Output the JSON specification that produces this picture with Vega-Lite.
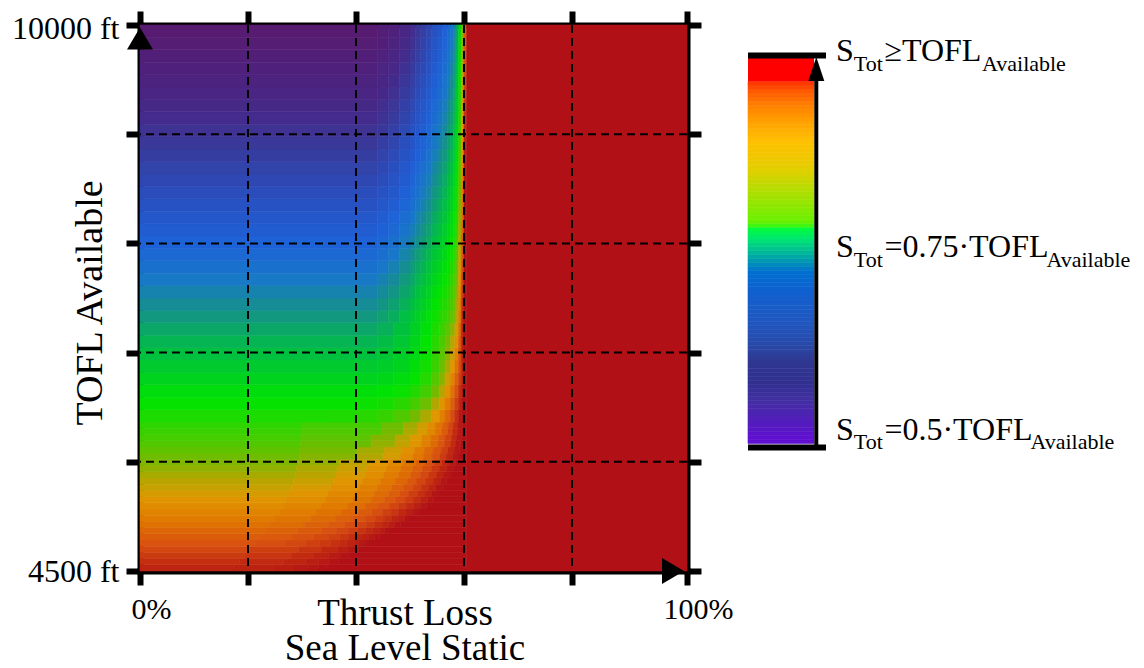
{
"$schema":"https://vega.github.io/schema/vega-lite/v6.json",
"background":"white",
"padding":{"left":11,"top":8,"right":5,"bottom":0},
"autosize":{"type":"pad"},
"spacing":61,
"bounds":"flush",
"resolve":{"scale":{"color":"independent","stroke":"independent"}},
"config":{
"view":{"stroke":null},
"font":"Liberation Serif",
"axis":{"domainColor":"black","domainWidth":6,"domainCap":"square","tickColor":"black","tickWidth":6,"tickSize":14,"labelColor":"black","labelFont":"Liberation Serif","titleFont":"Liberation Serif","titleColor":"black","titleFontWeight":"normal","grid":false,"zindex":1,"labelOverlap":false,"labelFlush":false,"labelBound":false}
},
"datasets":{
"heat":[
{"x":0,"x2":17.3,"y":4500,"y2":4562.5,"r":0.971},{"x":17.3,"x2":25,"y":4500,"y2":4562.5,"r":0.974},{"x":25,"x2":28.7,"y":4500,"y2":4562.5,"r":0.98},{"x":28.7,"x2":31.2,"y":4500,"y2":4562.5,"r":0.986},{"x":31.2,"x2":33,"y":4500,"y2":4562.5,"r":0.991},{"x":33,"x2":34.5,"y":4500,"y2":4562.5,"r":0.997},{"x":34.5,"x2":60.5,"y":4500,"y2":4562.5,"r":1.1},
{"x":0,"x2":18.4,"y":4562.5,"y2":4625,"r":0.958},{"x":18.4,"x2":26.6,"y":4562.5,"y2":4625,"r":0.963},{"x":26.6,"x2":30.6,"y":4562.5,"y2":4625,"r":0.97},{"x":30.6,"x2":33.1,"y":4562.5,"y2":4625,"r":0.979},{"x":33.1,"x2":35.1,"y":4562.5,"y2":4625,"r":0.987},{"x":35.1,"x2":36.7,"y":4562.5,"y2":4625,"r":0.996},{"x":36.7,"x2":60.5,"y":4562.5,"y2":4625,"r":1.1},
{"x":0,"x2":19.3,"y":4625,"y2":4687.5,"r":0.946},{"x":19.3,"x2":28,"y":4625,"y2":4687.5,"r":0.952},{"x":28,"x2":32.2,"y":4625,"y2":4687.5,"r":0.962},{"x":32.2,"x2":34.9,"y":4625,"y2":4687.5,"r":0.973},{"x":34.9,"x2":36.9,"y":4625,"y2":4687.5,"r":0.984},{"x":36.9,"x2":38.6,"y":4625,"y2":4687.5,"r":0.995},{"x":38.6,"x2":60.5,"y":4625,"y2":4687.5,"r":1.1},
{"x":0,"x2":20.3,"y":4687.5,"y2":4750,"r":0.933},{"x":20.3,"x2":29.4,"y":4687.5,"y2":4750,"r":0.941},{"x":29.4,"x2":33.7,"y":4687.5,"y2":4750,"r":0.953},{"x":33.7,"x2":36.6,"y":4687.5,"y2":4750,"r":0.966},{"x":36.6,"x2":38.7,"y":4687.5,"y2":4750,"r":0.98},{"x":38.7,"x2":40.5,"y":4687.5,"y2":4750,"r":0.993},{"x":40.5,"x2":60.5,"y":4687.5,"y2":4750,"r":1.1},
{"x":0,"x2":21.2,"y":4750,"y2":4812.5,"r":0.92},{"x":21.2,"x2":26.8,"y":4750,"y2":4812.5,"r":0.925},{"x":26.8,"x2":30.7,"y":4750,"y2":4812.5,"r":0.932},{"x":30.7,"x2":33.3,"y":4750,"y2":4812.5,"r":0.94},{"x":33.3,"x2":35.3,"y":4750,"y2":4812.5,"r":0.948},{"x":35.3,"x2":36.9,"y":4750,"y2":4812.5,"r":0.956},{"x":36.9,"x2":38.3,"y":4750,"y2":4812.5,"r":0.964},{"x":38.3,"x2":39.5,"y":4750,"y2":4812.5,"r":0.972},{"x":39.5,"x2":40.5,"y":4750,"y2":4812.5,"r":0.98},{"x":40.5,"x2":41.5,"y":4750,"y2":4812.5,"r":0.988},{"x":41.5,"x2":42.4,"y":4750,"y2":4812.5,"r":0.996},{"x":42.4,"x2":60.5,"y":4750,"y2":4812.5,"r":1.1},
{"x":0,"x2":22.2,"y":4812.5,"y2":4875,"r":0.909},{"x":22.2,"x2":28,"y":4812.5,"y2":4875,"r":0.914},{"x":28,"x2":32.2,"y":4812.5,"y2":4875,"r":0.922},{"x":32.2,"x2":34.9,"y":4812.5,"y2":4875,"r":0.931},{"x":34.9,"x2":37,"y":4812.5,"y2":4875,"r":0.94},{"x":37,"x2":38.7,"y":4812.5,"y2":4875,"r":0.95},{"x":38.7,"x2":40.1,"y":4812.5,"y2":4875,"r":0.959},{"x":40.1,"x2":41.3,"y":4812.5,"y2":4875,"r":0.968},{"x":41.3,"x2":42.4,"y":4812.5,"y2":4875,"r":0.977},{"x":42.4,"x2":43.5,"y":4812.5,"y2":4875,"r":0.986},{"x":43.5,"x2":44.4,"y":4812.5,"y2":4875,"r":0.995},{"x":44.4,"x2":60.5,"y":4812.5,"y2":4875,"r":1.1},
{"x":0,"x2":23.2,"y":4875,"y2":4937.5,"r":0.897},{"x":23.2,"x2":29.2,"y":4875,"y2":4937.5,"r":0.903},{"x":29.2,"x2":33.6,"y":4875,"y2":4937.5,"r":0.912},{"x":33.6,"x2":36.4,"y":4875,"y2":4937.5,"r":0.923},{"x":36.4,"x2":38.6,"y":4875,"y2":4937.5,"r":0.933},{"x":38.6,"x2":40.3,"y":4875,"y2":4937.5,"r":0.943},{"x":40.3,"x2":41.8,"y":4875,"y2":4937.5,"r":0.954},{"x":41.8,"x2":43.1,"y":4875,"y2":4937.5,"r":0.964},{"x":43.1,"x2":44.3,"y":4875,"y2":4937.5,"r":0.974},{"x":44.3,"x2":45.3,"y":4875,"y2":4937.5,"r":0.985},{"x":45.3,"x2":46.3,"y":4875,"y2":4937.5,"r":0.995},{"x":46.3,"x2":60.5,"y":4875,"y2":4937.5,"r":1.1},
{"x":0,"x2":24.1,"y":4937.5,"y2":5000,"r":0.886},{"x":24.1,"x2":30.4,"y":4937.5,"y2":5000,"r":0.892},{"x":30.4,"x2":34.9,"y":4937.5,"y2":5000,"r":0.903},{"x":34.9,"x2":37.9,"y":4937.5,"y2":5000,"r":0.914},{"x":37.9,"x2":40.2,"y":4937.5,"y2":5000,"r":0.926},{"x":40.2,"x2":42,"y":4937.5,"y2":5000,"r":0.937},{"x":42,"x2":43.5,"y":4937.5,"y2":5000,"r":0.948},{"x":43.5,"x2":44.9,"y":4937.5,"y2":5000,"r":0.96},{"x":44.9,"x2":46.1,"y":4937.5,"y2":5000,"r":0.971},{"x":46.1,"x2":47.2,"y":4937.5,"y2":5000,"r":0.983},{"x":47.2,"x2":48.2,"y":4937.5,"y2":5000,"r":0.994},{"x":48.2,"x2":60.5,"y":4937.5,"y2":5000,"r":1.1},
{"x":0,"x2":25,"y":5000,"y2":5062.5,"r":0.875},{"x":25,"x2":31.6,"y":5000,"y2":5062.5,"r":0.882},{"x":31.6,"x2":36.3,"y":5000,"y2":5062.5,"r":0.893},{"x":36.3,"x2":39.3,"y":5000,"y2":5062.5,"r":0.906},{"x":39.3,"x2":41.7,"y":5000,"y2":5062.5,"r":0.918},{"x":41.7,"x2":43.6,"y":5000,"y2":5062.5,"r":0.931},{"x":43.6,"x2":45.2,"y":5000,"y2":5062.5,"r":0.944},{"x":45.2,"x2":46.6,"y":5000,"y2":5062.5,"r":0.956},{"x":46.6,"x2":47.8,"y":5000,"y2":5062.5,"r":0.969},{"x":47.8,"x2":49,"y":5000,"y2":5062.5,"r":0.981},{"x":49,"x2":50,"y":5000,"y2":5062.5,"r":0.994},{"x":50,"x2":60.5,"y":5000,"y2":5062.5,"r":1.1},
{"x":0,"x2":25.8,"y":5062.5,"y2":5125,"r":0.864},{"x":25.8,"x2":32.5,"y":5062.5,"y2":5125,"r":0.872},{"x":32.5,"x2":37.3,"y":5062.5,"y2":5125,"r":0.884},{"x":37.3,"x2":40.5,"y":5062.5,"y2":5125,"r":0.898},{"x":40.5,"x2":42.9,"y":5062.5,"y2":5125,"r":0.911},{"x":42.9,"x2":44.9,"y":5062.5,"y2":5125,"r":0.925},{"x":44.9,"x2":46.5,"y":5062.5,"y2":5125,"r":0.939},{"x":46.5,"x2":47.9,"y":5062.5,"y2":5125,"r":0.952},{"x":47.9,"x2":49.2,"y":5062.5,"y2":5125,"r":0.966},{"x":49.2,"x2":50.4,"y":5062.5,"y2":5125,"r":0.98},{"x":50.4,"x2":51.5,"y":5062.5,"y2":5125,"r":0.993},{"x":51.5,"x2":60.5,"y":5062.5,"y2":5125,"r":1.1},
{"x":0,"x2":26.5,"y":5125,"y2":5187.5,"r":0.854},{"x":26.5,"x2":33.4,"y":5125,"y2":5187.5,"r":0.862},{"x":33.4,"x2":38.4,"y":5125,"y2":5187.5,"r":0.875},{"x":38.4,"x2":41.7,"y":5125,"y2":5187.5,"r":0.89},{"x":41.7,"x2":44.1,"y":5125,"y2":5187.5,"r":0.905},{"x":44.1,"x2":46.2,"y":5125,"y2":5187.5,"r":0.919},{"x":46.2,"x2":47.9,"y":5125,"y2":5187.5,"r":0.934},{"x":47.9,"x2":49.3,"y":5125,"y2":5187.5,"r":0.949},{"x":49.3,"x2":50.7,"y":5125,"y2":5187.5,"r":0.963},{"x":50.7,"x2":51.9,"y":5125,"y2":5187.5,"r":0.978},{"x":51.9,"x2":53,"y":5125,"y2":5187.5,"r":0.993},{"x":53,"x2":60.5,"y":5125,"y2":5187.5,"r":1.1},
{"x":0,"x2":27.2,"y":5187.5,"y2":5250,"r":0.844},{"x":27.2,"x2":34.3,"y":5187.5,"y2":5250,"r":0.853},{"x":34.3,"x2":39.4,"y":5187.5,"y2":5250,"r":0.867},{"x":39.4,"x2":42.8,"y":5187.5,"y2":5250,"r":0.882},{"x":42.8,"x2":45.3,"y":5187.5,"y2":5250,"r":0.898},{"x":45.3,"x2":47.4,"y":5187.5,"y2":5250,"r":0.914},{"x":47.4,"x2":49.1,"y":5187.5,"y2":5250,"r":0.929},{"x":49.1,"x2":50.6,"y":5187.5,"y2":5250,"r":0.945},{"x":50.6,"x2":52,"y":5187.5,"y2":5250,"r":0.961},{"x":52,"x2":53.3,"y":5187.5,"y2":5250,"r":0.976},{"x":53.3,"x2":54.4,"y":5187.5,"y2":5250,"r":0.992},{"x":54.4,"x2":60.5,"y":5187.5,"y2":5250,"r":1.1},
{"x":0,"x2":27.6,"y":5250,"y2":5312.5,"r":0.834},{"x":27.6,"x2":34.8,"y":5250,"y2":5312.5,"r":0.843},{"x":34.8,"x2":40,"y":5250,"y2":5312.5,"r":0.858},{"x":40,"x2":43.4,"y":5250,"y2":5312.5,"r":0.875},{"x":43.4,"x2":46,"y":5250,"y2":5312.5,"r":0.892},{"x":46,"x2":48.1,"y":5250,"y2":5312.5,"r":0.908},{"x":48.1,"x2":49.8,"y":5250,"y2":5312.5,"r":0.925},{"x":49.8,"x2":51.4,"y":5250,"y2":5312.5,"r":0.942},{"x":51.4,"x2":52.8,"y":5250,"y2":5312.5,"r":0.958},{"x":52.8,"x2":54,"y":5250,"y2":5312.5,"r":0.975},{"x":54,"x2":55.2,"y":5250,"y2":5312.5,"r":0.992},{"x":55.2,"x2":60.5,"y":5250,"y2":5312.5,"r":1.1},
{"x":0,"x2":28,"y":5312.5,"y2":5375,"r":0.824},{"x":28,"x2":35.3,"y":5312.5,"y2":5375,"r":0.834},{"x":35.3,"x2":40.6,"y":5312.5,"y2":5375,"r":0.85},{"x":40.6,"x2":44,"y":5312.5,"y2":5375,"r":0.868},{"x":44,"x2":46.6,"y":5312.5,"y2":5375,"r":0.885},{"x":46.6,"x2":48.8,"y":5312.5,"y2":5375,"r":0.903},{"x":48.8,"x2":50.6,"y":5312.5,"y2":5375,"r":0.921},{"x":50.6,"x2":52.1,"y":5312.5,"y2":5375,"r":0.938},{"x":52.1,"x2":53.5,"y":5312.5,"y2":5375,"r":0.956},{"x":53.5,"x2":54.8,"y":5312.5,"y2":5375,"r":0.973},{"x":54.8,"x2":56,"y":5312.5,"y2":5375,"r":0.991},{"x":56,"x2":60.5,"y":5312.5,"y2":5375,"r":1.1},
{"x":0,"x2":28.4,"y":5375,"y2":5437.5,"r":0.815},{"x":28.4,"x2":35.8,"y":5375,"y2":5437.5,"r":0.825},{"x":35.8,"x2":41.2,"y":5375,"y2":5437.5,"r":0.842},{"x":41.2,"x2":44.6,"y":5375,"y2":5437.5,"r":0.86},{"x":44.6,"x2":47.3,"y":5375,"y2":5437.5,"r":0.879},{"x":47.3,"x2":49.5,"y":5375,"y2":5437.5,"r":0.898},{"x":49.5,"x2":51.3,"y":5375,"y2":5437.5,"r":0.916},{"x":51.3,"x2":52.9,"y":5375,"y2":5437.5,"r":0.935},{"x":52.9,"x2":54.3,"y":5375,"y2":5437.5,"r":0.953},{"x":54.3,"x2":55.6,"y":5375,"y2":5437.5,"r":0.972},{"x":55.6,"x2":56.8,"y":5375,"y2":5437.5,"r":0.991},{"x":56.8,"x2":60.5,"y":5375,"y2":5437.5,"r":1.1},
{"x":0,"x2":28.8,"y":5437.5,"y2":5500,"r":0.806},{"x":28.8,"x2":36.3,"y":5437.5,"y2":5500,"r":0.816},{"x":36.3,"x2":41.7,"y":5437.5,"y2":5500,"r":0.834},{"x":41.7,"x2":45.2,"y":5437.5,"y2":5500,"r":0.853},{"x":45.2,"x2":47.9,"y":5437.5,"y2":5500,"r":0.873},{"x":47.9,"x2":50.1,"y":5437.5,"y2":5500,"r":0.892},{"x":50.1,"x2":51.9,"y":5437.5,"y2":5500,"r":0.912},{"x":51.9,"x2":53.5,"y":5437.5,"y2":5500,"r":0.932},{"x":53.5,"x2":55,"y":5437.5,"y2":5500,"r":0.951},{"x":55,"x2":56.3,"y":5437.5,"y2":5500,"r":0.971},{"x":56.3,"x2":57.5,"y":5437.5,"y2":5500,"r":0.99},{"x":57.5,"x2":60.5,"y":5437.5,"y2":5500,"r":1.1},
{"x":0,"x2":29,"y":5500,"y2":5562.5,"r":0.797},{"x":29,"x2":36.6,"y":5500,"y2":5562.5,"r":0.808},{"x":36.6,"x2":42.1,"y":5500,"y2":5562.5,"r":0.826},{"x":42.1,"x2":45.6,"y":5500,"y2":5562.5,"r":0.847},{"x":45.6,"x2":48.3,"y":5500,"y2":5562.5,"r":0.867},{"x":48.3,"x2":50.5,"y":5500,"y2":5562.5,"r":0.888},{"x":50.5,"x2":52.4,"y":5500,"y2":5562.5,"r":0.908},{"x":52.4,"x2":54,"y":5500,"y2":5562.5,"r":0.928},{"x":54,"x2":55.4,"y":5500,"y2":5562.5,"r":0.949},{"x":55.4,"x2":56.8,"y":5500,"y2":5562.5,"r":0.969},{"x":56.8,"x2":58,"y":5500,"y2":5562.5,"r":0.99},{"x":58,"x2":60.5,"y":5500,"y2":5562.5,"r":1.1},
{"x":0,"x2":29.3,"y":5562.5,"y2":5625,"r":0.788},{"x":29.3,"x2":36.9,"y":5562.5,"y2":5625,"r":0.799},{"x":36.9,"x2":42.4,"y":5562.5,"y2":5625,"r":0.819},{"x":42.4,"x2":46,"y":5562.5,"y2":5625,"r":0.84},{"x":46,"x2":48.7,"y":5562.5,"y2":5625,"r":0.861},{"x":48.7,"x2":51,"y":5562.5,"y2":5625,"r":0.883},{"x":51,"x2":52.8,"y":5562.5,"y2":5625,"r":0.904},{"x":52.8,"x2":54.5,"y":5562.5,"y2":5625,"r":0.925},{"x":54.5,"x2":55.9,"y":5562.5,"y2":5625,"r":0.947},{"x":55.9,"x2":57.3,"y":5562.5,"y2":5625,"r":0.968},{"x":57.3,"x2":58.5,"y":5562.5,"y2":5625,"r":0.989},{"x":58.5,"x2":60.5,"y":5562.5,"y2":5625,"r":1.1},
{"x":0,"x2":29.5,"y":5625,"y2":5687.5,"r":0.779},{"x":29.5,"x2":40.1,"y":5625,"y2":5687.5,"r":0.791},{"x":40.1,"x2":45.1,"y":5625,"y2":5687.5,"r":0.811},{"x":45.1,"x2":48.2,"y":5625,"y2":5687.5,"r":0.833},{"x":48.2,"x2":50.5,"y":5625,"y2":5687.5,"r":0.856},{"x":50.5,"x2":52.5,"y":5625,"y2":5687.5,"r":0.878},{"x":52.5,"x2":54.1,"y":5625,"y2":5687.5,"r":0.9},{"x":54.1,"x2":55.5,"y":5625,"y2":5687.5,"r":0.922},{"x":55.5,"x2":56.7,"y":5625,"y2":5687.5,"r":0.944},{"x":56.7,"x2":57.9,"y":5625,"y2":5687.5,"r":0.967},{"x":57.9,"x2":58.9,"y":5625,"y2":5687.5,"r":0.989},{"x":58.9,"x2":60.5,"y":5625,"y2":5687.5,"r":1.1},
{"x":0,"x2":29.6,"y":5687.5,"y2":5750,"r":0.77},{"x":29.6,"x2":40.3,"y":5687.5,"y2":5750,"r":0.783},{"x":40.3,"x2":45.3,"y":5687.5,"y2":5750,"r":0.804},{"x":45.3,"x2":48.4,"y":5687.5,"y2":5750,"r":0.827},{"x":48.4,"x2":50.8,"y":5687.5,"y2":5750,"r":0.85},{"x":50.8,"x2":52.7,"y":5687.5,"y2":5750,"r":0.873},{"x":52.7,"x2":54.3,"y":5687.5,"y2":5750,"r":0.896},{"x":54.3,"x2":55.8,"y":5687.5,"y2":5750,"r":0.919},{"x":55.8,"x2":57,"y":5687.5,"y2":5750,"r":0.942},{"x":57,"x2":58.2,"y":5687.5,"y2":5750,"r":0.965},{"x":58.2,"x2":59.2,"y":5687.5,"y2":5750,"r":0.988},{"x":59.2,"x2":60.5,"y":5687.5,"y2":5750,"r":1.1},
{"x":0,"x2":29.7,"y":5750,"y2":5812.5,"r":0.762},{"x":29.7,"x2":42.8,"y":5750,"y2":5812.5,"r":0.775},{"x":42.8,"x2":47.2,"y":5750,"y2":5812.5,"r":0.797},{"x":47.2,"x2":50,"y":5750,"y2":5812.5,"r":0.821},{"x":50,"x2":52.1,"y":5750,"y2":5812.5,"r":0.845},{"x":52.1,"x2":53.8,"y":5750,"y2":5812.5,"r":0.869},{"x":53.8,"x2":55.2,"y":5750,"y2":5812.5,"r":0.893},{"x":55.2,"x2":56.4,"y":5750,"y2":5812.5,"r":0.916},{"x":56.4,"x2":57.6,"y":5750,"y2":5812.5,"r":0.94},{"x":57.6,"x2":58.5,"y":5750,"y2":5812.5,"r":0.964},{"x":58.5,"x2":59.4,"y":5750,"y2":5812.5,"r":0.988},{"x":59.4,"x2":60.5,"y":5750,"y2":5812.5,"r":1.1},
{"x":0,"x2":29.8,"y":5812.5,"y2":5875,"r":0.754},{"x":29.8,"x2":42.8,"y":5812.5,"y2":5875,"r":0.768},{"x":42.8,"x2":47.3,"y":5812.5,"y2":5875,"r":0.79},{"x":47.3,"x2":50.1,"y":5812.5,"y2":5875,"r":0.815},{"x":50.1,"x2":52.2,"y":5812.5,"y2":5875,"r":0.839},{"x":52.2,"x2":53.9,"y":5812.5,"y2":5875,"r":0.864},{"x":53.9,"x2":55.3,"y":5812.5,"y2":5875,"r":0.889},{"x":55.3,"x2":56.5,"y":5812.5,"y2":5875,"r":0.913},{"x":56.5,"x2":57.7,"y":5812.5,"y2":5875,"r":0.938},{"x":57.7,"x2":58.6,"y":5812.5,"y2":5875,"r":0.963},{"x":58.6,"x2":59.5,"y":5812.5,"y2":5875,"r":0.988},{"x":59.5,"x2":60.5,"y":5812.5,"y2":5875,"r":1.1},
{"x":0,"x2":29.8,"y":5875,"y2":5937.5,"r":0.746},{"x":29.8,"x2":44.7,"y":5875,"y2":5937.5,"r":0.76},{"x":44.7,"x2":48.8,"y":5875,"y2":5937.5,"r":0.783},{"x":48.8,"x2":51.3,"y":5875,"y2":5937.5,"r":0.809},{"x":51.3,"x2":53.2,"y":5875,"y2":5937.5,"r":0.834},{"x":53.2,"x2":54.7,"y":5875,"y2":5937.5,"r":0.86},{"x":54.7,"x2":55.9,"y":5875,"y2":5937.5,"r":0.885},{"x":55.9,"x2":57,"y":5875,"y2":5937.5,"r":0.911},{"x":57,"x2":57.9,"y":5875,"y2":5937.5,"r":0.936},{"x":57.9,"x2":58.8,"y":5875,"y2":5937.5,"r":0.962},{"x":58.8,"x2":59.6,"y":5875,"y2":5937.5,"r":0.987},{"x":59.6,"x2":60.5,"y":5875,"y2":5937.5,"r":1.1},
{"x":0,"x2":29.9,"y":5937.5,"y2":6000,"r":0.738},{"x":29.9,"x2":44.8,"y":5937.5,"y2":6000,"r":0.753},{"x":44.8,"x2":48.8,"y":5937.5,"y2":6000,"r":0.777},{"x":48.8,"x2":51.3,"y":5937.5,"y2":6000,"r":0.803},{"x":51.3,"x2":53.3,"y":5937.5,"y2":6000,"r":0.829},{"x":53.3,"x2":54.7,"y":5937.5,"y2":6000,"r":0.856},{"x":54.7,"x2":56,"y":5937.5,"y2":6000,"r":0.882},{"x":56,"x2":57.1,"y":5937.5,"y2":6000,"r":0.908},{"x":57.1,"x2":58,"y":5937.5,"y2":6000,"r":0.934},{"x":58,"x2":58.9,"y":5937.5,"y2":6000,"r":0.961},{"x":58.9,"x2":59.7,"y":5937.5,"y2":6000,"r":0.987},{"x":59.7,"x2":60.5,"y":5937.5,"y2":6000,"r":1.1},
{"x":0,"x2":35,"y":6000,"y2":6125,"r":0.726},{"x":35,"x2":40,"y":6000,"y2":6125,"r":0.728},{"x":40,"x2":44,"y":6000,"y2":6125,"r":0.734},{"x":44,"x2":47,"y":6000,"y2":6125,"r":0.744},{"x":47,"x2":50,"y":6000,"y2":6125,"r":0.76},{"x":50,"x2":52,"y":6000,"y2":6125,"r":0.783},{"x":52,"x2":54,"y":6000,"y2":6125,"r":0.809},{"x":54,"x2":55.5,"y":6000,"y2":6125,"r":0.841},{"x":55.5,"x2":56.5,"y":6000,"y2":6125,"r":0.87},{"x":56.5,"x2":57.5,"y":6000,"y2":6125,"r":0.898},{"x":57.5,"x2":58.3,"y":6000,"y2":6125,"r":0.928},{"x":58.3,"x2":59,"y":6000,"y2":6125,"r":0.956},{"x":59,"x2":59.5,"y":6000,"y2":6125,"r":0.986},{"x":59.5,"x2":60.5,"y":6000,"y2":6125,"r":1.1},
{"x":0,"x2":40,"y":6125,"y2":6250,"r":0.711},{"x":40,"x2":44,"y":6125,"y2":6250,"r":0.715},{"x":44,"x2":47,"y":6125,"y2":6250,"r":0.722},{"x":47,"x2":50,"y":6125,"y2":6250,"r":0.735},{"x":50,"x2":52,"y":6125,"y2":6250,"r":0.754},{"x":52,"x2":54,"y":6125,"y2":6250,"r":0.779},{"x":54,"x2":55.5,"y":6125,"y2":6250,"r":0.811},{"x":55.5,"x2":56.5,"y":6125,"y2":6250,"r":0.843},{"x":56.5,"x2":57.5,"y":6125,"y2":6250,"r":0.874},{"x":57.5,"x2":58.3,"y":6125,"y2":6250,"r":0.907},{"x":58.3,"x2":59,"y":6125,"y2":6250,"r":0.94},{"x":59,"x2":59.5,"y":6125,"y2":6250,"r":0.97},{"x":59.5,"x2":60,"y":6125,"y2":6250,"r":0.998},{"x":60,"x2":60.5,"y":6125,"y2":6250,"r":1.1},
{"x":0,"x2":40,"y":6250,"y2":6375,"r":0.697},{"x":40,"x2":44,"y":6250,"y2":6375,"r":0.699},{"x":44,"x2":47,"y":6250,"y2":6375,"r":0.704},{"x":47,"x2":50,"y":6250,"y2":6375,"r":0.713},{"x":50,"x2":52,"y":6250,"y2":6375,"r":0.729},{"x":52,"x2":54,"y":6250,"y2":6375,"r":0.752},{"x":54,"x2":55.5,"y":6250,"y2":6375,"r":0.783},{"x":55.5,"x2":56.5,"y":6250,"y2":6375,"r":0.815},{"x":56.5,"x2":57.5,"y":6250,"y2":6375,"r":0.848},{"x":57.5,"x2":58.3,"y":6250,"y2":6375,"r":0.885},{"x":58.3,"x2":59,"y":6250,"y2":6375,"r":0.923},{"x":59,"x2":59.5,"y":6250,"y2":6375,"r":0.957},{"x":59.5,"x2":60,"y":6250,"y2":6375,"r":0.99},{"x":60,"x2":60.5,"y":6250,"y2":6375,"r":1.1},
{"x":0,"x2":44,"y":6375,"y2":6500,"r":0.684},{"x":44,"x2":47,"y":6375,"y2":6500,"r":0.688},{"x":47,"x2":50,"y":6375,"y2":6500,"r":0.696},{"x":50,"x2":52,"y":6375,"y2":6500,"r":0.711},{"x":52,"x2":54,"y":6375,"y2":6500,"r":0.732},{"x":54,"x2":55.5,"y":6375,"y2":6500,"r":0.762},{"x":55.5,"x2":56.5,"y":6375,"y2":6500,"r":0.793},{"x":56.5,"x2":57.5,"y":6375,"y2":6500,"r":0.826},{"x":57.5,"x2":58.3,"y":6375,"y2":6500,"r":0.864},{"x":58.3,"x2":59,"y":6375,"y2":6500,"r":0.903},{"x":59,"x2":59.5,"y":6375,"y2":6500,"r":0.939},{"x":59.5,"x2":60,"y":6375,"y2":6500,"r":0.974},{"x":60,"x2":60.5,"y":6375,"y2":6500,"r":1.1},
{"x":0,"x2":44,"y":6500,"y2":6625,"r":0.671},{"x":44,"x2":47,"y":6500,"y2":6625,"r":0.676},{"x":47,"x2":50,"y":6500,"y2":6625,"r":0.684},{"x":50,"x2":52,"y":6500,"y2":6625,"r":0.699},{"x":52,"x2":54,"y":6500,"y2":6625,"r":0.719},{"x":54,"x2":55.5,"y":6500,"y2":6625,"r":0.747},{"x":55.5,"x2":56.5,"y":6500,"y2":6625,"r":0.776},{"x":56.5,"x2":57.5,"y":6500,"y2":6625,"r":0.806},{"x":57.5,"x2":58.3,"y":6500,"y2":6625,"r":0.842},{"x":58.3,"x2":59,"y":6500,"y2":6625,"r":0.881},{"x":59,"x2":59.5,"y":6500,"y2":6625,"r":0.925},{"x":59.5,"x2":60,"y":6500,"y2":6625,"r":0.973},{"x":60,"x2":60.5,"y":6500,"y2":6625,"r":1.1},
{"x":0,"x2":44,"y":6625,"y2":6750,"r":0.658},{"x":44,"x2":47,"y":6625,"y2":6750,"r":0.665},{"x":47,"x2":50,"y":6625,"y2":6750,"r":0.676},{"x":50,"x2":52,"y":6625,"y2":6750,"r":0.692},{"x":52,"x2":54,"y":6625,"y2":6750,"r":0.714},{"x":54,"x2":55.5,"y":6625,"y2":6750,"r":0.741},{"x":55.5,"x2":56.5,"y":6625,"y2":6750,"r":0.767},{"x":56.5,"x2":57.5,"y":6625,"y2":6750,"r":0.795},{"x":57.5,"x2":58.3,"y":6625,"y2":6750,"r":0.828},{"x":58.3,"x2":59,"y":6625,"y2":6750,"r":0.867},{"x":59,"x2":59.5,"y":6625,"y2":6750,"r":0.917},{"x":59.5,"x2":60,"y":6625,"y2":6750,"r":0.978},{"x":60,"x2":60.5,"y":6625,"y2":6750,"r":1.1},
{"x":0,"x2":44,"y":6750,"y2":6875,"r":0.647},{"x":44,"x2":47,"y":6750,"y2":6875,"r":0.654},{"x":47,"x2":50,"y":6750,"y2":6875,"r":0.667},{"x":50,"x2":52,"y":6750,"y2":6875,"r":0.686},{"x":52,"x2":54,"y":6750,"y2":6875,"r":0.708},{"x":54,"x2":55.5,"y":6750,"y2":6875,"r":0.734},{"x":55.5,"x2":56.5,"y":6750,"y2":6875,"r":0.757},{"x":56.5,"x2":57.5,"y":6750,"y2":6875,"r":0.782},{"x":57.5,"x2":58.3,"y":6750,"y2":6875,"r":0.812},{"x":58.3,"x2":59,"y":6750,"y2":6875,"r":0.85},{"x":59,"x2":59.5,"y":6750,"y2":6875,"r":0.906},{"x":59.5,"x2":60,"y":6750,"y2":6875,"r":0.979},{"x":60,"x2":60.5,"y":6750,"y2":6875,"r":1.1},
{"x":0,"x2":44,"y":6875,"y2":7000,"r":0.636},{"x":44,"x2":47,"y":6875,"y2":7000,"r":0.644},{"x":47,"x2":50,"y":6875,"y2":7000,"r":0.659},{"x":50,"x2":52,"y":6875,"y2":7000,"r":0.679},{"x":52,"x2":54,"y":6875,"y2":7000,"r":0.701},{"x":54,"x2":55.5,"y":6875,"y2":7000,"r":0.726},{"x":55.5,"x2":56.5,"y":6875,"y2":7000,"r":0.746},{"x":56.5,"x2":57.5,"y":6875,"y2":7000,"r":0.767},{"x":57.5,"x2":58.3,"y":6875,"y2":7000,"r":0.793},{"x":58.3,"x2":59,"y":6875,"y2":7000,"r":0.83},{"x":59,"x2":59.5,"y":6875,"y2":7000,"r":0.891},{"x":59.5,"x2":60,"y":6875,"y2":7000,"r":0.975},{"x":60,"x2":60.5,"y":6875,"y2":7000,"r":1.1},
{"x":0,"x2":44,"y":7000,"y2":7125,"r":0.624},{"x":44,"x2":46,"y":7000,"y2":7125,"r":0.632},{"x":46,"x2":48,"y":7000,"y2":7125,"r":0.642},{"x":48,"x2":50,"y":7000,"y2":7125,"r":0.655},{"x":50,"x2":51,"y":7000,"y2":7125,"r":0.668},{"x":51,"x2":52,"y":7000,"y2":7125,"r":0.678},{"x":52,"x2":53,"y":7000,"y2":7125,"r":0.689},{"x":53,"x2":54,"y":7000,"y2":7125,"r":0.701},{"x":54,"x2":55,"y":7000,"y2":7125,"r":0.715},{"x":55,"x2":56,"y":7000,"y2":7125,"r":0.727},{"x":56,"x2":57,"y":7000,"y2":7125,"r":0.742},{"x":57,"x2":57.5,"y":7000,"y2":7125,"r":0.756},{"x":57.5,"x2":58,"y":7000,"y2":7125,"r":0.768},{"x":58,"x2":58.5,"y":7000,"y2":7125,"r":0.786},{"x":58.5,"x2":59,"y":7000,"y2":7125,"r":0.813},{"x":59,"x2":59.5,"y":7000,"y2":7125,"r":0.873},{"x":59.5,"x2":60,"y":7000,"y2":7125,"r":0.968},{"x":60,"x2":60.5,"y":7000,"y2":7125,"r":1.1},
{"x":0,"x2":44,"y":7125,"y2":7250,"r":0.613},{"x":44,"x2":46,"y":7125,"y2":7250,"r":0.621},{"x":46,"x2":48,"y":7125,"y2":7250,"r":0.631},{"x":48,"x2":50,"y":7125,"y2":7250,"r":0.644},{"x":50,"x2":51,"y":7125,"y2":7250,"r":0.657},{"x":51,"x2":52,"y":7125,"y2":7250,"r":0.667},{"x":52,"x2":53,"y":7125,"y2":7250,"r":0.678},{"x":53,"x2":54,"y":7125,"y2":7250,"r":0.69},{"x":54,"x2":55,"y":7125,"y2":7250,"r":0.704},{"x":55,"x2":56,"y":7125,"y2":7250,"r":0.716},{"x":56,"x2":57,"y":7125,"y2":7250,"r":0.731},{"x":57,"x2":57.5,"y":7125,"y2":7250,"r":0.745},{"x":57.5,"x2":58,"y":7125,"y2":7250,"r":0.757},{"x":58,"x2":58.5,"y":7125,"y2":7250,"r":0.775},{"x":58.5,"x2":59,"y":7125,"y2":7250,"r":0.802},{"x":59,"x2":59.5,"y":7125,"y2":7250,"r":0.862},{"x":59.5,"x2":60,"y":7125,"y2":7250,"r":0.957},{"x":60,"x2":60.5,"y":7125,"y2":7250,"r":1.1},
{"x":0,"x2":44,"y":7250,"y2":7375,"r":0.603},{"x":44,"x2":46,"y":7250,"y2":7375,"r":0.611},{"x":46,"x2":48,"y":7250,"y2":7375,"r":0.621},{"x":48,"x2":50,"y":7250,"y2":7375,"r":0.634},{"x":50,"x2":51,"y":7250,"y2":7375,"r":0.647},{"x":51,"x2":52,"y":7250,"y2":7375,"r":0.657},{"x":52,"x2":53,"y":7250,"y2":7375,"r":0.668},{"x":53,"x2":54,"y":7250,"y2":7375,"r":0.68},{"x":54,"x2":55,"y":7250,"y2":7375,"r":0.694},{"x":55,"x2":56,"y":7250,"y2":7375,"r":0.706},{"x":56,"x2":57,"y":7250,"y2":7375,"r":0.721},{"x":57,"x2":57.5,"y":7250,"y2":7375,"r":0.735},{"x":57.5,"x2":58,"y":7250,"y2":7375,"r":0.747},{"x":58,"x2":58.5,"y":7250,"y2":7375,"r":0.765},{"x":58.5,"x2":59,"y":7250,"y2":7375,"r":0.792},{"x":59,"x2":59.5,"y":7250,"y2":7375,"r":0.852},{"x":59.5,"x2":60,"y":7250,"y2":7375,"r":0.947},{"x":60,"x2":60.5,"y":7250,"y2":7375,"r":1.1},
{"x":0,"x2":44,"y":7375,"y2":7500,"r":0.593},{"x":44,"x2":46,"y":7375,"y2":7500,"r":0.601},{"x":46,"x2":48,"y":7375,"y2":7500,"r":0.611},{"x":48,"x2":50,"y":7375,"y2":7500,"r":0.624},{"x":50,"x2":51,"y":7375,"y2":7500,"r":0.637},{"x":51,"x2":52,"y":7375,"y2":7500,"r":0.647},{"x":52,"x2":53,"y":7375,"y2":7500,"r":0.658},{"x":53,"x2":54,"y":7375,"y2":7500,"r":0.67},{"x":54,"x2":55,"y":7375,"y2":7500,"r":0.684},{"x":55,"x2":56,"y":7375,"y2":7500,"r":0.696},{"x":56,"x2":57,"y":7375,"y2":7500,"r":0.711},{"x":57,"x2":57.5,"y":7375,"y2":7500,"r":0.725},{"x":57.5,"x2":58,"y":7375,"y2":7500,"r":0.737},{"x":58,"x2":58.5,"y":7375,"y2":7500,"r":0.755},{"x":58.5,"x2":59,"y":7375,"y2":7500,"r":0.782},{"x":59,"x2":59.5,"y":7375,"y2":7500,"r":0.842},{"x":59.5,"x2":60,"y":7375,"y2":7500,"r":0.937},{"x":60,"x2":60.5,"y":7375,"y2":7500,"r":1.1},
{"x":0,"x2":44,"y":7500,"y2":7625,"r":0.583},{"x":44,"x2":46,"y":7500,"y2":7625,"r":0.591},{"x":46,"x2":48,"y":7500,"y2":7625,"r":0.601},{"x":48,"x2":50,"y":7500,"y2":7625,"r":0.614},{"x":50,"x2":51,"y":7500,"y2":7625,"r":0.627},{"x":51,"x2":52,"y":7500,"y2":7625,"r":0.637},{"x":52,"x2":53,"y":7500,"y2":7625,"r":0.648},{"x":53,"x2":54,"y":7500,"y2":7625,"r":0.66},{"x":54,"x2":55,"y":7500,"y2":7625,"r":0.674},{"x":55,"x2":56,"y":7500,"y2":7625,"r":0.686},{"x":56,"x2":57,"y":7500,"y2":7625,"r":0.701},{"x":57,"x2":57.5,"y":7500,"y2":7625,"r":0.715},{"x":57.5,"x2":58,"y":7500,"y2":7625,"r":0.727},{"x":58,"x2":58.5,"y":7500,"y2":7625,"r":0.745},{"x":58.5,"x2":59,"y":7500,"y2":7625,"r":0.772},{"x":59,"x2":59.5,"y":7500,"y2":7625,"r":0.832},{"x":59.5,"x2":60,"y":7500,"y2":7625,"r":0.927},{"x":60,"x2":60.5,"y":7500,"y2":7625,"r":1.1},
{"x":0,"x2":44,"y":7625,"y2":7750,"r":0.573},{"x":44,"x2":46,"y":7625,"y2":7750,"r":0.581},{"x":46,"x2":48,"y":7625,"y2":7750,"r":0.591},{"x":48,"x2":50,"y":7625,"y2":7750,"r":0.604},{"x":50,"x2":51,"y":7625,"y2":7750,"r":0.617},{"x":51,"x2":52,"y":7625,"y2":7750,"r":0.627},{"x":52,"x2":53,"y":7625,"y2":7750,"r":0.638},{"x":53,"x2":54,"y":7625,"y2":7750,"r":0.65},{"x":54,"x2":55,"y":7625,"y2":7750,"r":0.664},{"x":55,"x2":56,"y":7625,"y2":7750,"r":0.676},{"x":56,"x2":57,"y":7625,"y2":7750,"r":0.691},{"x":57,"x2":57.5,"y":7625,"y2":7750,"r":0.705},{"x":57.5,"x2":58,"y":7625,"y2":7750,"r":0.717},{"x":58,"x2":58.5,"y":7625,"y2":7750,"r":0.735},{"x":58.5,"x2":59,"y":7625,"y2":7750,"r":0.762},{"x":59,"x2":59.5,"y":7625,"y2":7750,"r":0.822},{"x":59.5,"x2":60,"y":7625,"y2":7750,"r":0.917},{"x":60,"x2":60.5,"y":7625,"y2":7750,"r":1.1},
{"x":0,"x2":44,"y":7750,"y2":7875,"r":0.564},{"x":44,"x2":46,"y":7750,"y2":7875,"r":0.572},{"x":46,"x2":48,"y":7750,"y2":7875,"r":0.582},{"x":48,"x2":50,"y":7750,"y2":7875,"r":0.595},{"x":50,"x2":51,"y":7750,"y2":7875,"r":0.608},{"x":51,"x2":52,"y":7750,"y2":7875,"r":0.618},{"x":52,"x2":53,"y":7750,"y2":7875,"r":0.629},{"x":53,"x2":54,"y":7750,"y2":7875,"r":0.641},{"x":54,"x2":55,"y":7750,"y2":7875,"r":0.655},{"x":55,"x2":56,"y":7750,"y2":7875,"r":0.667},{"x":56,"x2":57,"y":7750,"y2":7875,"r":0.682},{"x":57,"x2":57.5,"y":7750,"y2":7875,"r":0.696},{"x":57.5,"x2":58,"y":7750,"y2":7875,"r":0.708},{"x":58,"x2":58.5,"y":7750,"y2":7875,"r":0.726},{"x":58.5,"x2":59,"y":7750,"y2":7875,"r":0.753},{"x":59,"x2":59.5,"y":7750,"y2":7875,"r":0.813},{"x":59.5,"x2":60,"y":7750,"y2":7875,"r":0.908},{"x":60,"x2":60.5,"y":7750,"y2":7875,"r":1.1},
{"x":0,"x2":44,"y":7875,"y2":8000,"r":0.555},{"x":44,"x2":46,"y":7875,"y2":8000,"r":0.563},{"x":46,"x2":48,"y":7875,"y2":8000,"r":0.573},{"x":48,"x2":50,"y":7875,"y2":8000,"r":0.586},{"x":50,"x2":51,"y":7875,"y2":8000,"r":0.599},{"x":51,"x2":52,"y":7875,"y2":8000,"r":0.609},{"x":52,"x2":53,"y":7875,"y2":8000,"r":0.62},{"x":53,"x2":54,"y":7875,"y2":8000,"r":0.632},{"x":54,"x2":55,"y":7875,"y2":8000,"r":0.646},{"x":55,"x2":56,"y":7875,"y2":8000,"r":0.658},{"x":56,"x2":57,"y":7875,"y2":8000,"r":0.673},{"x":57,"x2":57.5,"y":7875,"y2":8000,"r":0.687},{"x":57.5,"x2":58,"y":7875,"y2":8000,"r":0.699},{"x":58,"x2":58.5,"y":7875,"y2":8000,"r":0.717},{"x":58.5,"x2":59,"y":7875,"y2":8000,"r":0.744},{"x":59,"x2":59.5,"y":7875,"y2":8000,"r":0.804},{"x":59.5,"x2":60,"y":7875,"y2":8000,"r":0.899},{"x":60,"x2":60.5,"y":7875,"y2":8000,"r":1.1},
{"x":0,"x2":44,"y":8000,"y2":8125,"r":0.547},{"x":44,"x2":46,"y":8000,"y2":8125,"r":0.555},{"x":46,"x2":48,"y":8000,"y2":8125,"r":0.565},{"x":48,"x2":50,"y":8000,"y2":8125,"r":0.578},{"x":50,"x2":51,"y":8000,"y2":8125,"r":0.591},{"x":51,"x2":52,"y":8000,"y2":8125,"r":0.601},{"x":52,"x2":53,"y":8000,"y2":8125,"r":0.612},{"x":53,"x2":54,"y":8000,"y2":8125,"r":0.624},{"x":54,"x2":55,"y":8000,"y2":8125,"r":0.638},{"x":55,"x2":56,"y":8000,"y2":8125,"r":0.65},{"x":56,"x2":57,"y":8000,"y2":8125,"r":0.665},{"x":57,"x2":57.5,"y":8000,"y2":8125,"r":0.679},{"x":57.5,"x2":58,"y":8000,"y2":8125,"r":0.691},{"x":58,"x2":58.5,"y":8000,"y2":8125,"r":0.709},{"x":58.5,"x2":59,"y":8000,"y2":8125,"r":0.736},{"x":59,"x2":59.5,"y":8000,"y2":8125,"r":0.796},{"x":59.5,"x2":60,"y":8000,"y2":8125,"r":0.891},{"x":60,"x2":60.5,"y":8000,"y2":8125,"r":1.1},
{"x":0,"x2":44,"y":8125,"y2":8250,"r":0.538},{"x":44,"x2":46,"y":8125,"y2":8250,"r":0.546},{"x":46,"x2":48,"y":8125,"y2":8250,"r":0.556},{"x":48,"x2":50,"y":8125,"y2":8250,"r":0.569},{"x":50,"x2":51,"y":8125,"y2":8250,"r":0.582},{"x":51,"x2":52,"y":8125,"y2":8250,"r":0.592},{"x":52,"x2":53,"y":8125,"y2":8250,"r":0.603},{"x":53,"x2":54,"y":8125,"y2":8250,"r":0.615},{"x":54,"x2":55,"y":8125,"y2":8250,"r":0.629},{"x":55,"x2":56,"y":8125,"y2":8250,"r":0.641},{"x":56,"x2":57,"y":8125,"y2":8250,"r":0.656},{"x":57,"x2":57.5,"y":8125,"y2":8250,"r":0.67},{"x":57.5,"x2":58,"y":8125,"y2":8250,"r":0.682},{"x":58,"x2":58.5,"y":8125,"y2":8250,"r":0.7},{"x":58.5,"x2":59,"y":8125,"y2":8250,"r":0.727},{"x":59,"x2":59.5,"y":8125,"y2":8250,"r":0.787},{"x":59.5,"x2":60,"y":8125,"y2":8250,"r":0.882},{"x":60,"x2":60.5,"y":8125,"y2":8250,"r":1.1},
{"x":0,"x2":44,"y":8250,"y2":8375,"r":0.53},{"x":44,"x2":46,"y":8250,"y2":8375,"r":0.538},{"x":46,"x2":48,"y":8250,"y2":8375,"r":0.548},{"x":48,"x2":50,"y":8250,"y2":8375,"r":0.561},{"x":50,"x2":51,"y":8250,"y2":8375,"r":0.574},{"x":51,"x2":52,"y":8250,"y2":8375,"r":0.584},{"x":52,"x2":53,"y":8250,"y2":8375,"r":0.595},{"x":53,"x2":54,"y":8250,"y2":8375,"r":0.607},{"x":54,"x2":55,"y":8250,"y2":8375,"r":0.621},{"x":55,"x2":56,"y":8250,"y2":8375,"r":0.633},{"x":56,"x2":57,"y":8250,"y2":8375,"r":0.648},{"x":57,"x2":57.5,"y":8250,"y2":8375,"r":0.662},{"x":57.5,"x2":58,"y":8250,"y2":8375,"r":0.674},{"x":58,"x2":58.5,"y":8250,"y2":8375,"r":0.692},{"x":58.5,"x2":59,"y":8250,"y2":8375,"r":0.719},{"x":59,"x2":59.5,"y":8250,"y2":8375,"r":0.779},{"x":59.5,"x2":60,"y":8250,"y2":8375,"r":0.874},{"x":60,"x2":60.5,"y":8250,"y2":8375,"r":0.999},
{"x":0,"x2":44,"y":8375,"y2":8500,"r":0.522},{"x":44,"x2":46,"y":8375,"y2":8500,"r":0.53},{"x":46,"x2":48,"y":8375,"y2":8500,"r":0.54},{"x":48,"x2":50,"y":8375,"y2":8500,"r":0.553},{"x":50,"x2":51,"y":8375,"y2":8500,"r":0.566},{"x":51,"x2":52,"y":8375,"y2":8500,"r":0.576},{"x":52,"x2":53,"y":8375,"y2":8500,"r":0.587},{"x":53,"x2":54,"y":8375,"y2":8500,"r":0.599},{"x":54,"x2":55,"y":8375,"y2":8500,"r":0.613},{"x":55,"x2":56,"y":8375,"y2":8500,"r":0.625},{"x":56,"x2":57,"y":8375,"y2":8500,"r":0.64},{"x":57,"x2":57.5,"y":8375,"y2":8500,"r":0.654},{"x":57.5,"x2":58,"y":8375,"y2":8500,"r":0.666},{"x":58,"x2":58.5,"y":8375,"y2":8500,"r":0.684},{"x":58.5,"x2":59,"y":8375,"y2":8500,"r":0.711},{"x":59,"x2":59.5,"y":8375,"y2":8500,"r":0.771},{"x":59.5,"x2":60,"y":8375,"y2":8500,"r":0.866},{"x":60,"x2":60.5,"y":8375,"y2":8500,"r":0.991},
{"x":0,"x2":44,"y":8500,"y2":8625,"r":0.515},{"x":44,"x2":46,"y":8500,"y2":8625,"r":0.523},{"x":46,"x2":48,"y":8500,"y2":8625,"r":0.533},{"x":48,"x2":50,"y":8500,"y2":8625,"r":0.546},{"x":50,"x2":51,"y":8500,"y2":8625,"r":0.559},{"x":51,"x2":52,"y":8500,"y2":8625,"r":0.569},{"x":52,"x2":53,"y":8500,"y2":8625,"r":0.58},{"x":53,"x2":54,"y":8500,"y2":8625,"r":0.592},{"x":54,"x2":55,"y":8500,"y2":8625,"r":0.606},{"x":55,"x2":56,"y":8500,"y2":8625,"r":0.618},{"x":56,"x2":57,"y":8500,"y2":8625,"r":0.633},{"x":57,"x2":57.5,"y":8500,"y2":8625,"r":0.647},{"x":57.5,"x2":58,"y":8500,"y2":8625,"r":0.659},{"x":58,"x2":58.5,"y":8500,"y2":8625,"r":0.677},{"x":58.5,"x2":59,"y":8500,"y2":8625,"r":0.704},{"x":59,"x2":59.5,"y":8500,"y2":8625,"r":0.764},{"x":59.5,"x2":60,"y":8500,"y2":8625,"r":0.859},{"x":60,"x2":60.5,"y":8500,"y2":8625,"r":0.984},
{"x":0,"x2":44,"y":8625,"y2":8750,"r":0.507},{"x":44,"x2":46,"y":8625,"y2":8750,"r":0.515},{"x":46,"x2":48,"y":8625,"y2":8750,"r":0.525},{"x":48,"x2":50,"y":8625,"y2":8750,"r":0.538},{"x":50,"x2":51,"y":8625,"y2":8750,"r":0.551},{"x":51,"x2":52,"y":8625,"y2":8750,"r":0.561},{"x":52,"x2":53,"y":8625,"y2":8750,"r":0.572},{"x":53,"x2":54,"y":8625,"y2":8750,"r":0.584},{"x":54,"x2":55,"y":8625,"y2":8750,"r":0.598},{"x":55,"x2":56,"y":8625,"y2":8750,"r":0.61},{"x":56,"x2":57,"y":8625,"y2":8750,"r":0.625},{"x":57,"x2":57.5,"y":8625,"y2":8750,"r":0.639},{"x":57.5,"x2":58,"y":8625,"y2":8750,"r":0.651},{"x":58,"x2":58.5,"y":8625,"y2":8750,"r":0.669},{"x":58.5,"x2":59,"y":8625,"y2":8750,"r":0.696},{"x":59,"x2":59.5,"y":8625,"y2":8750,"r":0.756},{"x":59.5,"x2":60,"y":8625,"y2":8750,"r":0.851},{"x":60,"x2":60.5,"y":8625,"y2":8750,"r":0.976},
{"x":0,"x2":44,"y":8750,"y2":8875,"r":0.5},{"x":44,"x2":46,"y":8750,"y2":8875,"r":0.508},{"x":46,"x2":48,"y":8750,"y2":8875,"r":0.518},{"x":48,"x2":50,"y":8750,"y2":8875,"r":0.531},{"x":50,"x2":51,"y":8750,"y2":8875,"r":0.544},{"x":51,"x2":52,"y":8750,"y2":8875,"r":0.554},{"x":52,"x2":53,"y":8750,"y2":8875,"r":0.565},{"x":53,"x2":54,"y":8750,"y2":8875,"r":0.577},{"x":54,"x2":55,"y":8750,"y2":8875,"r":0.591},{"x":55,"x2":56,"y":8750,"y2":8875,"r":0.603},{"x":56,"x2":57,"y":8750,"y2":8875,"r":0.618},{"x":57,"x2":57.5,"y":8750,"y2":8875,"r":0.632},{"x":57.5,"x2":58,"y":8750,"y2":8875,"r":0.644},{"x":58,"x2":58.5,"y":8750,"y2":8875,"r":0.662},{"x":58.5,"x2":59,"y":8750,"y2":8875,"r":0.689},{"x":59,"x2":59.5,"y":8750,"y2":8875,"r":0.749},{"x":59.5,"x2":60,"y":8750,"y2":8875,"r":0.844},{"x":60,"x2":60.5,"y":8750,"y2":8875,"r":0.969},
{"x":0,"x2":44,"y":8875,"y2":9000,"r":0.493},{"x":44,"x2":46,"y":8875,"y2":9000,"r":0.501},{"x":46,"x2":48,"y":8875,"y2":9000,"r":0.511},{"x":48,"x2":50,"y":8875,"y2":9000,"r":0.524},{"x":50,"x2":51,"y":8875,"y2":9000,"r":0.537},{"x":51,"x2":52,"y":8875,"y2":9000,"r":0.547},{"x":52,"x2":53,"y":8875,"y2":9000,"r":0.558},{"x":53,"x2":54,"y":8875,"y2":9000,"r":0.57},{"x":54,"x2":55,"y":8875,"y2":9000,"r":0.584},{"x":55,"x2":56,"y":8875,"y2":9000,"r":0.596},{"x":56,"x2":57,"y":8875,"y2":9000,"r":0.611},{"x":57,"x2":57.5,"y":8875,"y2":9000,"r":0.625},{"x":57.5,"x2":58,"y":8875,"y2":9000,"r":0.637},{"x":58,"x2":58.5,"y":8875,"y2":9000,"r":0.655},{"x":58.5,"x2":59,"y":8875,"y2":9000,"r":0.682},{"x":59,"x2":59.5,"y":8875,"y2":9000,"r":0.742},{"x":59.5,"x2":60,"y":8875,"y2":9000,"r":0.837},{"x":60,"x2":60.5,"y":8875,"y2":9000,"r":0.962},
{"x":0,"x2":44,"y":9000,"y2":9125,"r":0.486},{"x":44,"x2":46,"y":9000,"y2":9125,"r":0.494},{"x":46,"x2":48,"y":9000,"y2":9125,"r":0.504},{"x":48,"x2":50,"y":9000,"y2":9125,"r":0.517},{"x":50,"x2":51,"y":9000,"y2":9125,"r":0.53},{"x":51,"x2":52,"y":9000,"y2":9125,"r":0.54},{"x":52,"x2":53,"y":9000,"y2":9125,"r":0.551},{"x":53,"x2":54,"y":9000,"y2":9125,"r":0.563},{"x":54,"x2":55,"y":9000,"y2":9125,"r":0.577},{"x":55,"x2":56,"y":9000,"y2":9125,"r":0.589},{"x":56,"x2":57,"y":9000,"y2":9125,"r":0.604},{"x":57,"x2":57.5,"y":9000,"y2":9125,"r":0.618},{"x":57.5,"x2":58,"y":9000,"y2":9125,"r":0.63},{"x":58,"x2":58.5,"y":9000,"y2":9125,"r":0.648},{"x":58.5,"x2":59,"y":9000,"y2":9125,"r":0.675},{"x":59,"x2":59.5,"y":9000,"y2":9125,"r":0.735},{"x":59.5,"x2":60,"y":9000,"y2":9125,"r":0.83},{"x":60,"x2":60.5,"y":9000,"y2":9125,"r":0.955},
{"x":0,"x2":44,"y":9125,"y2":9250,"r":0.48},{"x":44,"x2":46,"y":9125,"y2":9250,"r":0.488},{"x":46,"x2":48,"y":9125,"y2":9250,"r":0.498},{"x":48,"x2":50,"y":9125,"y2":9250,"r":0.511},{"x":50,"x2":51,"y":9125,"y2":9250,"r":0.524},{"x":51,"x2":52,"y":9125,"y2":9250,"r":0.534},{"x":52,"x2":53,"y":9125,"y2":9250,"r":0.545},{"x":53,"x2":54,"y":9125,"y2":9250,"r":0.557},{"x":54,"x2":55,"y":9125,"y2":9250,"r":0.571},{"x":55,"x2":56,"y":9125,"y2":9250,"r":0.583},{"x":56,"x2":57,"y":9125,"y2":9250,"r":0.598},{"x":57,"x2":57.5,"y":9125,"y2":9250,"r":0.612},{"x":57.5,"x2":58,"y":9125,"y2":9250,"r":0.624},{"x":58,"x2":58.5,"y":9125,"y2":9250,"r":0.642},{"x":58.5,"x2":59,"y":9125,"y2":9250,"r":0.669},{"x":59,"x2":59.5,"y":9125,"y2":9250,"r":0.729},{"x":59.5,"x2":60,"y":9125,"y2":9250,"r":0.824},{"x":60,"x2":60.5,"y":9125,"y2":9250,"r":0.949},
{"x":0,"x2":44,"y":9250,"y2":9375,"r":0.473},{"x":44,"x2":46,"y":9250,"y2":9375,"r":0.481},{"x":46,"x2":48,"y":9250,"y2":9375,"r":0.491},{"x":48,"x2":50,"y":9250,"y2":9375,"r":0.504},{"x":50,"x2":51,"y":9250,"y2":9375,"r":0.517},{"x":51,"x2":52,"y":9250,"y2":9375,"r":0.527},{"x":52,"x2":53,"y":9250,"y2":9375,"r":0.538},{"x":53,"x2":54,"y":9250,"y2":9375,"r":0.55},{"x":54,"x2":55,"y":9250,"y2":9375,"r":0.564},{"x":55,"x2":56,"y":9250,"y2":9375,"r":0.576},{"x":56,"x2":57,"y":9250,"y2":9375,"r":0.591},{"x":57,"x2":57.5,"y":9250,"y2":9375,"r":0.605},{"x":57.5,"x2":58,"y":9250,"y2":9375,"r":0.617},{"x":58,"x2":58.5,"y":9250,"y2":9375,"r":0.635},{"x":58.5,"x2":59,"y":9250,"y2":9375,"r":0.662},{"x":59,"x2":59.5,"y":9250,"y2":9375,"r":0.722},{"x":59.5,"x2":60,"y":9250,"y2":9375,"r":0.817},{"x":60,"x2":60.5,"y":9250,"y2":9375,"r":0.942},
{"x":0,"x2":44,"y":9375,"y2":9500,"r":0.467},{"x":44,"x2":46,"y":9375,"y2":9500,"r":0.475},{"x":46,"x2":48,"y":9375,"y2":9500,"r":0.485},{"x":48,"x2":50,"y":9375,"y2":9500,"r":0.498},{"x":50,"x2":51,"y":9375,"y2":9500,"r":0.511},{"x":51,"x2":52,"y":9375,"y2":9500,"r":0.521},{"x":52,"x2":53,"y":9375,"y2":9500,"r":0.532},{"x":53,"x2":54,"y":9375,"y2":9500,"r":0.544},{"x":54,"x2":55,"y":9375,"y2":9500,"r":0.558},{"x":55,"x2":56,"y":9375,"y2":9500,"r":0.57},{"x":56,"x2":57,"y":9375,"y2":9500,"r":0.585},{"x":57,"x2":57.5,"y":9375,"y2":9500,"r":0.599},{"x":57.5,"x2":58,"y":9375,"y2":9500,"r":0.611},{"x":58,"x2":58.5,"y":9375,"y2":9500,"r":0.629},{"x":58.5,"x2":59,"y":9375,"y2":9500,"r":0.656},{"x":59,"x2":59.5,"y":9375,"y2":9500,"r":0.716},{"x":59.5,"x2":60,"y":9375,"y2":9500,"r":0.811},{"x":60,"x2":60.5,"y":9375,"y2":9500,"r":0.936},
{"x":0,"x2":44,"y":9500,"y2":9625,"r":0.461},{"x":44,"x2":46,"y":9500,"y2":9625,"r":0.469},{"x":46,"x2":48,"y":9500,"y2":9625,"r":0.479},{"x":48,"x2":50,"y":9500,"y2":9625,"r":0.492},{"x":50,"x2":51,"y":9500,"y2":9625,"r":0.505},{"x":51,"x2":52,"y":9500,"y2":9625,"r":0.515},{"x":52,"x2":53,"y":9500,"y2":9625,"r":0.526},{"x":53,"x2":54,"y":9500,"y2":9625,"r":0.538},{"x":54,"x2":55,"y":9500,"y2":9625,"r":0.552},{"x":55,"x2":56,"y":9500,"y2":9625,"r":0.564},{"x":56,"x2":57,"y":9500,"y2":9625,"r":0.579},{"x":57,"x2":57.5,"y":9500,"y2":9625,"r":0.593},{"x":57.5,"x2":58,"y":9500,"y2":9625,"r":0.605},{"x":58,"x2":58.5,"y":9500,"y2":9625,"r":0.623},{"x":58.5,"x2":59,"y":9500,"y2":9625,"r":0.65},{"x":59,"x2":59.5,"y":9500,"y2":9625,"r":0.71},{"x":59.5,"x2":60,"y":9500,"y2":9625,"r":0.805},{"x":60,"x2":60.5,"y":9500,"y2":9625,"r":0.93},
{"x":0,"x2":44,"y":9625,"y2":9750,"r":0.455},{"x":44,"x2":46,"y":9625,"y2":9750,"r":0.463},{"x":46,"x2":48,"y":9625,"y2":9750,"r":0.473},{"x":48,"x2":50,"y":9625,"y2":9750,"r":0.486},{"x":50,"x2":51,"y":9625,"y2":9750,"r":0.499},{"x":51,"x2":52,"y":9625,"y2":9750,"r":0.509},{"x":52,"x2":53,"y":9625,"y2":9750,"r":0.52},{"x":53,"x2":54,"y":9625,"y2":9750,"r":0.532},{"x":54,"x2":55,"y":9625,"y2":9750,"r":0.546},{"x":55,"x2":56,"y":9625,"y2":9750,"r":0.558},{"x":56,"x2":57,"y":9625,"y2":9750,"r":0.573},{"x":57,"x2":57.5,"y":9625,"y2":9750,"r":0.587},{"x":57.5,"x2":58,"y":9625,"y2":9750,"r":0.599},{"x":58,"x2":58.5,"y":9625,"y2":9750,"r":0.617},{"x":58.5,"x2":59,"y":9625,"y2":9750,"r":0.644},{"x":59,"x2":59.5,"y":9625,"y2":9750,"r":0.704},{"x":59.5,"x2":60,"y":9625,"y2":9750,"r":0.799},{"x":60,"x2":60.5,"y":9625,"y2":9750,"r":0.924},
{"x":0,"x2":44,"y":9750,"y2":9875,"r":0.449},{"x":44,"x2":46,"y":9750,"y2":9875,"r":0.457},{"x":46,"x2":48,"y":9750,"y2":9875,"r":0.467},{"x":48,"x2":50,"y":9750,"y2":9875,"r":0.48},{"x":50,"x2":51,"y":9750,"y2":9875,"r":0.493},{"x":51,"x2":52,"y":9750,"y2":9875,"r":0.503},{"x":52,"x2":53,"y":9750,"y2":9875,"r":0.514},{"x":53,"x2":54,"y":9750,"y2":9875,"r":0.526},{"x":54,"x2":55,"y":9750,"y2":9875,"r":0.54},{"x":55,"x2":56,"y":9750,"y2":9875,"r":0.552},{"x":56,"x2":57,"y":9750,"y2":9875,"r":0.567},{"x":57,"x2":57.5,"y":9750,"y2":9875,"r":0.581},{"x":57.5,"x2":58,"y":9750,"y2":9875,"r":0.593},{"x":58,"x2":58.5,"y":9750,"y2":9875,"r":0.611},{"x":58.5,"x2":59,"y":9750,"y2":9875,"r":0.638},{"x":59,"x2":59.5,"y":9750,"y2":9875,"r":0.698},{"x":59.5,"x2":60,"y":9750,"y2":9875,"r":0.793},{"x":60,"x2":60.5,"y":9750,"y2":9875,"r":0.918},
{"x":0,"x2":44,"y":9875,"y2":10000,"r":0.444},{"x":44,"x2":46,"y":9875,"y2":10000,"r":0.452},{"x":46,"x2":48,"y":9875,"y2":10000,"r":0.462},{"x":48,"x2":50,"y":9875,"y2":10000,"r":0.475},{"x":50,"x2":51,"y":9875,"y2":10000,"r":0.488},{"x":51,"x2":52,"y":9875,"y2":10000,"r":0.498},{"x":52,"x2":53,"y":9875,"y2":10000,"r":0.509},{"x":53,"x2":54,"y":9875,"y2":10000,"r":0.521},{"x":54,"x2":55,"y":9875,"y2":10000,"r":0.535},{"x":55,"x2":56,"y":9875,"y2":10000,"r":0.547},{"x":56,"x2":57,"y":9875,"y2":10000,"r":0.562},{"x":57,"x2":57.5,"y":9875,"y2":10000,"r":0.576},{"x":57.5,"x2":58,"y":9875,"y2":10000,"r":0.588},{"x":58,"x2":58.5,"y":9875,"y2":10000,"r":0.606},{"x":58.5,"x2":59,"y":9875,"y2":10000,"r":0.633},{"x":59,"x2":59.5,"y":9875,"y2":10000,"r":0.693},{"x":59.5,"x2":60,"y":9875,"y2":10000,"r":0.788},{"x":60,"x2":60.5,"y":9875,"y2":10000,"r":0.913},
{"x":60.5,"x2":101.3,"y":4500,"y2":10000,"r":1.1}
],
"cbar":[
{"y":1,"y2":2},{"y":2,"y2":3},{"y":3,"y2":4},{"y":4,"y2":5},{"y":5,"y2":6},{"y":6,"y2":7},{"y":7,"y2":8},{"y":8,"y2":9},{"y":9,"y2":10},{"y":10,"y2":11},
{"y":11,"y2":12},{"y":12,"y2":13},{"y":13,"y2":14},{"y":14,"y2":15},{"y":15,"y2":16},{"y":16,"y2":17},{"y":17,"y2":18},{"y":18,"y2":19},{"y":19,"y2":20},{"y":20,"y2":21},
{"y":21,"y2":22},{"y":22,"y2":23},{"y":23,"y2":24},{"y":24,"y2":25},{"y":25,"y2":26},{"y":26,"y2":27},{"y":27,"y2":28},{"y":28,"y2":29},{"y":29,"y2":30},{"y":30,"y2":31},
{"y":31,"y2":32},{"y":32,"y2":33},{"y":33,"y2":34},{"y":34,"y2":35},{"y":35,"y2":36},{"y":36,"y2":37},{"y":37,"y2":38},{"y":38,"y2":39},{"y":39,"y2":40},{"y":40,"y2":41},
{"y":41,"y2":42},{"y":42,"y2":43},{"y":43,"y2":44},{"y":44,"y2":45},{"y":45,"y2":46},{"y":46,"y2":47},{"y":47,"y2":48},{"y":48,"y2":49},{"y":49,"y2":50},{"y":50,"y2":51},
{"y":51,"y2":52},{"y":52,"y2":53},{"y":53,"y2":54},{"y":54,"y2":55},{"y":55,"y2":56},{"y":56,"y2":57},{"y":57,"y2":58},{"y":58,"y2":59},{"y":59,"y2":60},{"y":60,"y2":61},
{"y":61,"y2":62},{"y":62,"y2":63},{"y":63,"y2":64},{"y":64,"y2":65},{"y":65,"y2":66},{"y":66,"y2":67},{"y":67,"y2":68},{"y":68,"y2":69},{"y":69,"y2":70},{"y":70,"y2":71},
{"y":71,"y2":72},{"y":72,"y2":73},{"y":73,"y2":74},{"y":74,"y2":75},{"y":75,"y2":76},{"y":76,"y2":77},{"y":77,"y2":78},{"y":78,"y2":79},{"y":79,"y2":80},{"y":80,"y2":81},
{"y":81,"y2":82},{"y":82,"y2":83},{"y":83,"y2":84},{"y":84,"y2":85},{"y":85,"y2":86},{"y":86,"y2":87},{"y":87,"y2":88},{"y":88,"y2":89},{"y":89,"y2":90},{"y":90,"y2":91},
{"y":91,"y2":92},{"y":92,"y2":93}
],
"labels":[
{"key":"a","level":98.22,"mid":"≥TOFL"},
{"key":"b","level":48.41,"mid":"=0.75·TOFL"},
{"key":"c","level":1.91,"mid":"=0.5·TOFL"}
],
"bars":[{"level":99.6},{"level":0}],
"vgrid":[{"v":20},{"v":40},{"v":60},{"v":80}],
"hgrid":[{"t":5600},{"t":6700},{"t":7800},{"t":8900}]
},
"hconcat":[
{
"width":547,"height":546,
"resolve":{"axis":{"x":"independent","y":"independent"}},
"layer":[
{
"data":{"name":"heat"},
"mark":{"type":"rect","strokeWidth":0.6},
"encoding":{
"x":{"field":"x","type":"quantitative","scale":{"domain":[0,101.3],"nice":false,"zero":false},
"axis":{"orient":"bottom","values":[0,20,40,60,80,101.3],"labelExpr":"datum.value == 0 ? '0%' : datum.value > 100 ? '100%' : ''","labelFontSize":30,"labelPadding":9,"labelOffset":11,"title":["Thrust Loss","Sea Level Static"],"titleFontSize":37,"titleLineHeight":35,"titleX":264.5,"titleY":53,"titleBaseline":"alphabetic","titleAlign":"center"}},
"x2":{"field":"x2"},
"y":{"field":"y","type":"quantitative","scale":{"domain":[4500,10000],"nice":false,"zero":false},
"axis":{"orient":"left","values":[4500,5600,6700,7800,8900,10000],"labelExpr":"datum.value == 4500 ? '4500 ft' : datum.value == 10000 ? '10000 ft' : ''","labelFontSize":32,"labelPadding":7,"labelOffset":{"condition":{"test":"datum.value > 9999","value":3},"value":0},"title":"TOFL Available","titleFontSize":38,"titleX":-39,"titleY":277.5,"titleAngle":270,"titleBaseline":"alphabetic","titleAlign":"center"}},
"y2":{"field":"y2"},
"color":{"field":"r","type":"quantitative","legend":null,"scale":{"domain":[0.442,0.481,0.503,0.534,0.564,0.592,0.617,0.657,0.707,0.756,0.786,0.81,0.84,0.878,0.924,0.965,1.0],"range":["#581A70","#462888","#383A9C","#2850C0","#1E62D8","#1878C8","#14908C","#00C040","#00E400","#48CC00","#7AB800","#B0A800","#E09800","#E07800","#D85010","#C02810","#B11016"],"interpolate":"rgb","clamp":true}},
"stroke":{"field":"r","type":"quantitative","legend":null,"scale":{"domain":[0.442,0.481,0.503,0.534,0.564,0.592,0.617,0.657,0.707,0.756,0.786,0.81,0.84,0.878,0.924,0.965,1.0],"range":["#581A70","#462888","#383A9C","#2850C0","#1E62D8","#1878C8","#14908C","#00C040","#00E400","#48CC00","#7AB800","#B0A800","#E09800","#E07800","#D85010","#C02810","#B11016"],"interpolate":"rgb","clamp":true}}
}
},
{
"data":{"name":"vgrid"},
"mark":{"type":"rule","color":"black","strokeWidth":2,"strokeDash":[8,5]},
"encoding":{"x":{"field":"v","type":"quantitative","axis":null}}
},
{
"data":{"name":"hgrid"},
"mark":{"type":"rule","color":"black","strokeWidth":2,"strokeDash":[8,5]},
"encoding":{"y":{"field":"t","type":"quantitative","axis":null}}
},
{
"data":{"values":[{}]},
"mark":{"type":"point","shape":"M0,-0.846L1,0.846L-1,0.846Z","size":676,"filled":true,"fill":"black","strokeWidth":0,"opacity":1},
"encoding":{
"x":{"datum":0,"type":"quantitative","axis":{"orient":"top","values":[0,20,40,60,80,101.3],"labels":false,"title":null}},
"y":{"datum":9864,"type":"quantitative","axis":{"orient":"right","values":[4500,5600,6700,7800,8900,10000],"labels":false,"title":null}}
}
},
{
"data":{"values":[{}]},
"mark":{"type":"point","shape":"M0.846,0L-0.846,1L-0.846,-1Z","size":676,"filled":true,"fill":"black","strokeWidth":0,"opacity":1},
"encoding":{
"x":{"datum":98.71,"type":"quantitative","axis":null},
"y":{"datum":4500,"type":"quantitative","axis":null}
}
}
]
},
{
"width":78,"height":546,
"layer":[
{
"data":{"name":"cbar"},
"mark":{"type":"rect","strokeWidth":0.6},
"encoding":{
"x":{"datum":0,"type":"quantitative","scale":{"domain":[0,78],"nice":false,"zero":false},"axis":null},
"x2":{"datum":66},
"y":{"field":"y","type":"quantitative","scale":{"domain":[-31.38,107.37],"nice":false,"zero":false},"axis":null},
"y2":{"field":"y2"},
"color":{"field":"y","type":"quantitative","legend":null,"scale":{"domain":[1.9,7,12.1,16.4,21.5,25.5,31.6,39.3,44.3,48.5,52.7,55.8,56.1,57.8,63.7,69.8,73,77.4,82.5,86.6,90,93],"range":["#6010D0","#5020B8","#4030A0","#303090","#303890","#2848A8","#2058C0","#1060D0","#0070D0","#00B0A0","#00E870","#00FF30","#60F000","#70F000","#A8E000","#E0D000","#F0C800","#FFC000","#FFA000","#FF8000","#FF5A00","#FF2800"],"interpolate":"rgb","clamp":true}},
"stroke":{"field":"y","type":"quantitative","legend":null,"scale":{"domain":[1.9,7,12.1,16.4,21.5,25.5,31.6,39.3,44.3,48.5,52.7,55.8,56.1,57.8,63.7,69.8,73,77.4,82.5,86.6,90,93],"range":["#6010D0","#5020B8","#4030A0","#303090","#303890","#2848A8","#2058C0","#1060D0","#0070D0","#00B0A0","#00E870","#00FF30","#60F000","#70F000","#A8E000","#E0D000","#F0C800","#FFC000","#FFA000","#FF8000","#FF5A00","#FF2800"],"interpolate":"rgb","clamp":true}}
}
},
{
"data":{"values":[{}]},
"mark":{"type":"rect","fill":"#FF0000"},
"encoding":{
"x":{"datum":0,"type":"quantitative","axis":null},
"x2":{"datum":66},
"y":{"datum":93,"type":"quantitative","axis":null},
"y2":{"datum":99.2}
}
},
{
"data":{"name":"bars"},
"mark":{"type":"rule","color":"black","strokeWidth":6},
"encoding":{
"x":{"datum":0,"type":"quantitative","axis":null},
"x2":{"datum":78},
"y":{"field":"level","type":"quantitative","axis":null}
}
},
{
"data":{"values":[{}]},
"mark":{"type":"rule","color":"black","strokeWidth":4},
"encoding":{
"x":{"datum":68.3,"type":"quantitative","axis":null},
"y":{"datum":0,"type":"quantitative","axis":null},
"y2":{"datum":94}
}
},
{
"data":{"values":[{}]},
"mark":{"type":"point","shape":"M0,-1L0.667,1L-0.667,1Z","size":576,"filled":true,"fill":"black","strokeWidth":0,"opacity":1},
"encoding":{
"x":{"datum":68.3,"type":"quantitative","axis":null},
"y":{"datum":96.2,"type":"quantitative","axis":null}
}
},
{
"data":{"name":"labels"},
"mark":{"type":"text","text":"S","fontSize":32,"align":"left","baseline":"alphabetic","color":"black","font":"Liberation Serif"},
"encoding":{"x":{"datum":88,"type":"quantitative","axis":null},"y":{"field":"level","type":"quantitative","axis":null}}
},
{
"data":{"name":"labels"},
"mark":{"type":"text","text":"Tot","fontSize":22,"dx":17.8,"dy":9.5,"align":"left","baseline":"alphabetic","color":"black","font":"Liberation Serif"},
"encoding":{"x":{"datum":88,"type":"quantitative","axis":null},"y":{"field":"level","type":"quantitative","axis":null}}
},
{
"data":{"name":"labels"},
"mark":{"type":"text","fontSize":32,"dx":48.4,"align":"left","baseline":"alphabetic","color":"black","font":"Liberation Serif"},
"encoding":{"x":{"datum":88,"type":"quantitative","axis":null},"y":{"field":"level","type":"quantitative","axis":null},"text":{"field":"mid"}}
},
{
"data":{"name":"labels"},
"transform":[{"filter":"datum.key == 'a'"}],
"mark":{"type":"text","text":"Available","fontSize":22,"dx":146,"dy":9.5,"align":"left","baseline":"alphabetic","color":"black","font":"Liberation Serif"},
"encoding":{"x":{"datum":88,"type":"quantitative","axis":null},"y":{"field":"level","type":"quantitative","axis":null}}
},
{
"data":{"name":"labels"},
"transform":[{"filter":"datum.key == 'b'"}],
"mark":{"type":"text","text":"Available","fontSize":22,"dx":210.4,"dy":9.5,"align":"left","baseline":"alphabetic","color":"black","font":"Liberation Serif"},
"encoding":{"x":{"datum":88,"type":"quantitative","axis":null},"y":{"field":"level","type":"quantitative","axis":null}}
},
{
"data":{"name":"labels"},
"transform":[{"filter":"datum.key == 'c'"}],
"mark":{"type":"text","text":"Available","fontSize":22,"dx":194.4,"dy":9.5,"align":"left","baseline":"alphabetic","color":"black","font":"Liberation Serif"},
"encoding":{"x":{"datum":88,"type":"quantitative","axis":null},"y":{"field":"level","type":"quantitative","axis":null}}
}
]
}
]
}
